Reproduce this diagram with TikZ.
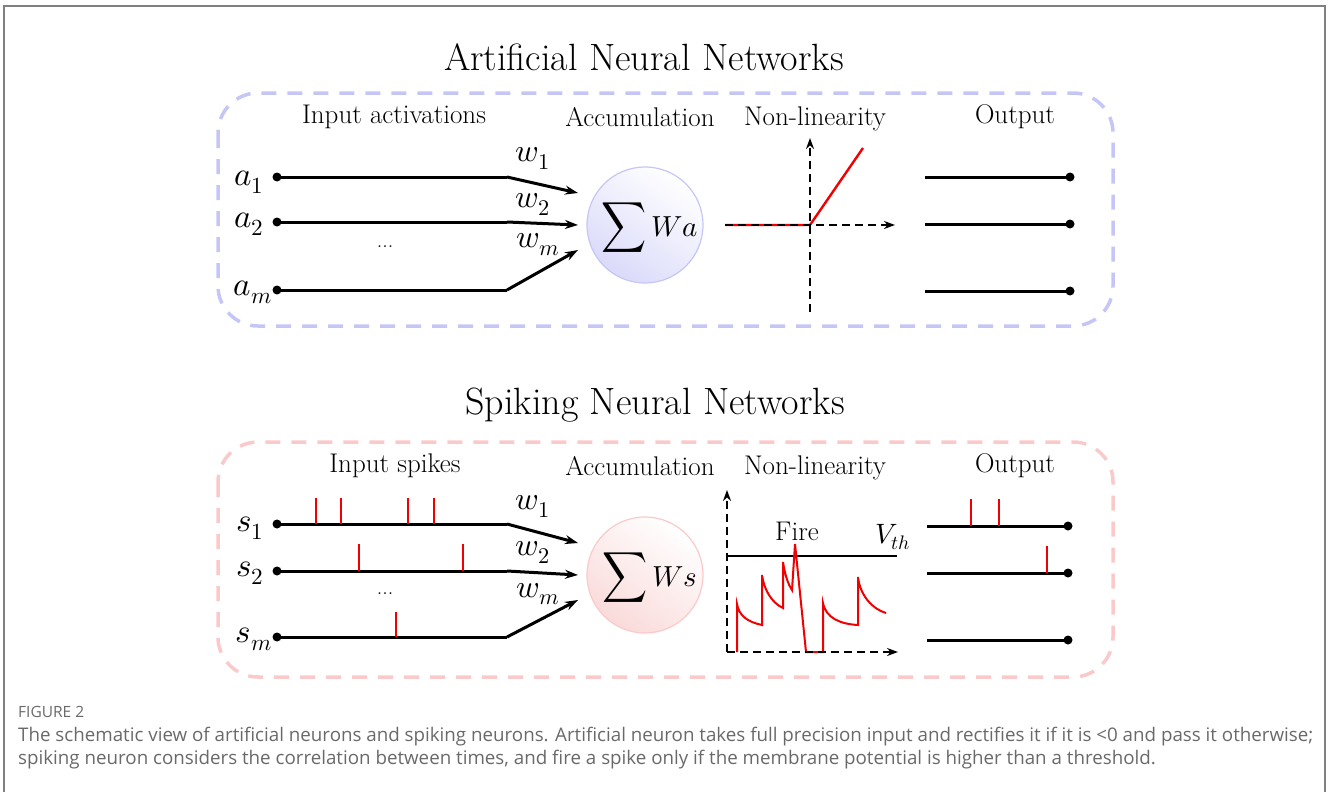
\documentclass[tikz,border=0pt]{standalone}
\usepackage{fontspec}
\usepackage{unicode-math}
\setmathfont{Latin Modern Math}
\usepackage{graphicx}
\newfontfamily\capfont{Open Sans}
\usetikzlibrary{arrows.meta}
\definecolor{annblue}{RGB}{198,198,246}
\definecolor{annfill}{RGB}{218,218,250}
\definecolor{snnpink}{RGB}{250,202,202}
\definecolor{snnfill}{RGB}{250,218,218}
\definecolor{framegray}{RGB}{128,128,128}
\definecolor{capgray}{RGB}{105,105,105}
\definecolor{spikered}{RGB}{240,0,0}
\tikzset{
  titletext/.style={font=\fontsize{38}{42}\selectfont, inner sep=0},
  headtext/.style={font=\fontsize{27}{30}\selectfont, inner sep=0},
  mathlbl/.style={font=\fontsize{33}{35}\selectfont, inner sep=0},
  wlbl/.style={font=\fontsize{32}{34}\selectfont, inner sep=0},
  groupbox/.style={dash pattern=on 15pt off 11pt, line width=3.5pt, rounded corners=40pt},
  wire/.style={line width=3pt, black},
  wirearrow/.style={line width=3pt, black, -{Stealth[length=13pt,width=9pt]}},
  enddot/.style={circle, fill=black, inner sep=0, minimum size=9pt},
  spike/.style={line width=2.6pt, spikered},
  axis/.style={line width=2.6pt, black, dash pattern=on 8pt off 5pt},
  axisarrow/.style={axis, -{Stealth[length=11pt,width=8pt]}},
  neuron/.style={circle, minimum size=116pt, inner sep=0, line width=1.2pt},
  sumtext/.style={inner sep=0, font=\fontsize{29}{31}\selectfont},
  captext/.style={font=\capfont\fontsize{18.75}{22}\selectfont, text=capgray, inner sep=0, anchor=base west},
}
\newcommand{\bigsigma}{\scalebox{1.08}[1.22]{$\displaystyle\sum$}}
\begin{document}
\begin{tikzpicture}[x=1pt,y=-1pt]
\useasboundingbox (0,0) rectangle (1328,792);
\draw[framegray, line width=2pt] (4,792) -- (4,6) -- (1325,6) -- (1325,792);

% ================= ANN =================
\node[titletext] (anntitle) at (644,57) {Artificial Neural Networks};
\draw[groupbox, annblue] (218,93) rectangle (1113,326);
\node[headtext] (annin) at (394,117) {Input activations};
\node[headtext] (annacc) at (640,117) {Accumulation};
\node[headtext] (annnl) at (815,119) {Non-linearity};
\node[headtext] (annout) at (1015,117) {Output};

\node[mathlbl, anchor=east] (la1) at (264,182) {$a_1$};
\node[mathlbl, anchor=east] (la2) at (264,224) {$a_2$};
\node[mathlbl, anchor=east] (lam) at (272,292) {$a_m$};
\node[enddot] (a1) at (277,177) {};
\node[enddot] (a2) at (277,222) {};
\node[enddot] (am) at (277,290) {};
\coordinate (a1b) at (507,177);
\coordinate (a2b) at (507,222);
\coordinate (amb) at (507,290);
\coordinate (a1t) at (578,193);
\coordinate (a2t) at (578,225);
\coordinate (amt) at (578,250);
\draw[wire] (a1.center) -- (a1b);
\draw[wire] (a2.center) -- (a2b);
\draw[wire] (am.center) -- (amb);
\draw[wirearrow] (a1b) -- (a1t);
\draw[wirearrow] (a2b) -- (a2t);
\draw[wirearrow] (amb) -- (amt);
\node[wlbl] (aw1) at (533,158) {$w_1$};
\node[wlbl] (aw2) at (533,204) {$w_2$};
\node[wlbl] (awm) at (538,245) {$w_m$};
\node[font=\fontsize{22}{24}\selectfont, inner sep=0] (adots) at (385,247) {...};

\node[neuron, draw=annblue, top color=white, bottom color=annfill, shading angle=-35] (annsum) at (645,225) {};
\node[sumtext] (annsumtxt) at (650,228) {$\bigsigma\,Wa$};

% ReLU
\coordinate (reluL) at (725,225);
\coordinate (reluO) at (810,225);
\coordinate (reluX) at (895,225);
\coordinate (reluYb) at (810,312);
\coordinate (reluYt) at (810,138);
\coordinate (reluEnd) at (863,148);
\draw[spikered, line width=2.4pt] (reluL) -- (reluO) -- (reluEnd);
\draw[axisarrow] (reluL) -- (reluX);
\draw[axisarrow] (reluYb) -- (reluYt);

% outputs
\foreach \y/\n in {177/1,224/2,291/3}{
  \coordinate (ao\n) at (925,\y);
  \node[enddot] (aod\n) at (1070,\y) {};
  \draw[wire] (ao\n) -- (aod\n.center);
}

% ================= SNN =================
\node[titletext] (snntitle) at (655,405) {Spiking Neural Networks};
\draw[groupbox, snnpink] (218,442) rectangle (1113,677);
\node[headtext] (snnin) at (395,466) {Input spikes};
\node[headtext] (snnacc) at (640,466) {Accumulation};
\node[headtext] (snnnl) at (815,468) {Non-linearity};
\node[headtext] (snnout) at (1015,466) {Output};

\node[mathlbl, anchor=east] (ls1) at (264,528) {$s_1$};
\node[mathlbl, anchor=east] (ls2) at (264,573) {$s_2$};
\node[mathlbl, anchor=east] (lsm) at (272,639) {$s_m$};
\node[enddot] (s1) at (277,524) {};
\node[enddot] (s2) at (277,571) {};
\node[enddot] (sm) at (277,637) {};
\coordinate (s1b) at (507,524);
\coordinate (s2b) at (507,571);
\coordinate (smb) at (507,637);
\coordinate (s1t) at (578,543);
\coordinate (s2t) at (578,575);
\coordinate (smt) at (578,600);
\draw[wire] (s1.center) -- (s1b);
\draw[wire] (s2.center) -- (s2b);
\draw[wire] (sm.center) -- (smb);
\draw[wirearrow] (s1b) -- (s1t);
\draw[wirearrow] (s2b) -- (s2t);
\draw[wirearrow] (smb) -- (smt);
\foreach \x in {316,341,408,434} \draw[spike] (\x,524) -- (\x,498);
\foreach \x in {359,463} \draw[spike] (\x,571) -- (\x,544);
\draw[spike] (396,637) -- (396,612);
\node[wlbl] (sw1) at (533,506) {$w_1$};
\node[wlbl] (sw2) at (533,552) {$w_2$};
\node[wlbl] (swm) at (538,594) {$w_m$};
\node[font=\fontsize{22}{24}\selectfont, inner sep=0] (sdots) at (385,594) {...};

\node[neuron, draw=snnpink, top color=white, bottom color=snnfill, shading angle=-35] (snnsum) at (645,575) {};
\node[sumtext] (snnsumtxt) at (650,578) {$\bigsigma\,Ws$};

% membrane plot
\coordinate (mO) at (727,652);
\coordinate (mX) at (898,652);
\coordinate (mY) at (727,490);
\coordinate (thL) at (727,556);
\coordinate (thR) at (897,556);
\draw[wire, line width=2.6pt] (thL) -- (thR);
\draw[spikered, line width=2pt]
  (737,652) -- (737,604) .. controls (739,616) and (748,622) .. (762,625)
  -- (762,575) .. controls (764,590) and (772,603) .. (783,608)
  -- (783,562) .. controls (785,575) and (788,584) .. (792,590)
  -- (795,544) -- (806,652) -- (823,652)
  -- (823,603) .. controls (826,618) and (840,624) .. (858,625)
  -- (858,577) .. controls (860,595) and (872,609) .. (886,613);
\draw[axisarrow] (mO) -- (mX);
\draw[axisarrow] (mO) -- (mY);
\node[headtext] (fire) at (797,531) {Fire};
\node[font=\fontsize{28}{30}\selectfont, inner sep=0] (vth) at (893,537) {$V_{th}$};

% outputs
\foreach \y/\n in {526/1,573/2,640/3}{
  \coordinate (so\n) at (927,\y);
  \node[enddot] (sod\n) at (1068,\y) {};
  \draw[wire] (so\n) -- (sod\n.center);
}
\foreach \x in {971,999} \draw[spike] (\x,526) -- (\x,499);
\draw[spike] (1047,573) -- (1047,546);

% ================= caption =================
\node[captext, font=\capfont\fontsize{15.5}{18}\selectfont] (figlbl) at (18,717) {FIGURE 2};
\node[captext] (cap1) at (18,741) {The schematic view of artificial neurons and spiking neurons. Artificial neuron takes full precision input and rectifies it if it is <0 and pass it otherwise;};
\node[captext] (cap2) at (18,764) {spiking neuron considers the correlation between times, and fire a spike only if the membrane potential is higher than a threshold.};
\end{tikzpicture}
\end{document}
